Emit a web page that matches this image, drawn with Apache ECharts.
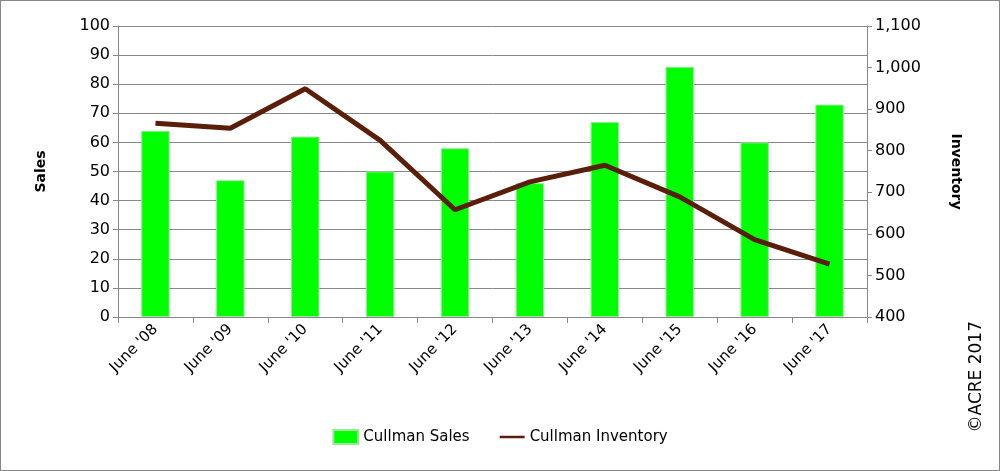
<!DOCTYPE html><html><head><meta charset="utf-8"><script src="https://cdn.jsdelivr.net/npm/echarts@6/dist/echarts.min.js"></script>
<style>body{margin:0}#c{width:1000px;height:471px;box-sizing:border-box;border:1px solid #888;background:#fff}</style></head><body><div id="c"></div>
<script>
const categories=["June '08","June '09","June '10","June '11","June '12","June '13","June '14","June '15","June '16","June '17"];
const sales=[64,47,62,50,58,46,67,86,60,73];
const inventory=[866,854,949,825,658,725,765,689,586,527];
const f='Verdana, "DejaVu Sans", sans-serif';
const ch=echarts.init(document.getElementById('c'));
ch.setOption({
animation:false,
grid:{left:117,right:132,top:25,bottom:153},
legend:{bottom:20,left:'center',itemGap:30,textStyle:{fontFamily:f,fontSize:15,color:'#000'},
 data:[{name:'Cullman Sales',icon:'rect',itemWidth:45,itemHeight:12},{name:'Cullman Inventory',icon:'path://M0,0H10V1H0Z',itemWidth:70,itemHeight:7}]},
graphic:[{type:'text',left:967,top:320,rotation:Math.PI/2,style:{text:'©ACRE 2017',font:'17px '+f,fill:'#000'}}],
xAxis:{type:'category',data:categories,axisTick:{show:true,length:6,lineStyle:{color:'#888'}},
 axisLine:{lineStyle:{color:'#888'}},axisLabel:{rotate:45,fontFamily:f,fontSize:15,color:'#000',margin:10}},
yAxis:[{type:'value',min:0,max:100,interval:10,name:'Sales',nameLocation:'middle',nameGap:70,nameRotate:90,
 nameTextStyle:{fontFamily:f,fontWeight:'bold',fontSize:14,color:'#000'},
 axisLine:{show:true,lineStyle:{color:'#888'}},axisTick:{show:true,lineStyle:{color:'#888'}},
 axisLabel:{fontFamily:f,fontSize:16,color:'#000'},splitLine:{lineStyle:{color:'#888'}}},
 {type:'value',min:400,max:1100,interval:100,name:'Inventory',nameLocation:'middle',nameGap:82,nameRotate:-90,
 nameTextStyle:{fontFamily:f,fontWeight:'bold',fontSize:14,color:'#000'},
 axisLine:{show:true,lineStyle:{color:'#888'}},axisTick:{show:true,lineStyle:{color:'#888'}},
 axisLabel:{fontFamily:f,fontSize:16,color:'#000',formatter:v=>v.toLocaleString('en-US')},splitLine:{show:false}}],
series:[{name:'Cullman Sales',type:'bar',data:sales,barWidth:'38%',itemStyle:{color:'#00ff00',borderColor:'#9be89b',borderWidth:1}},
 {name:'Cullman Inventory',type:'line',yAxisIndex:1,data:inventory,symbol:'none',lineStyle:{color:'#5a1e0a',width:5},itemStyle:{color:'#5a1e0a'}}]
});
</script></body></html>
